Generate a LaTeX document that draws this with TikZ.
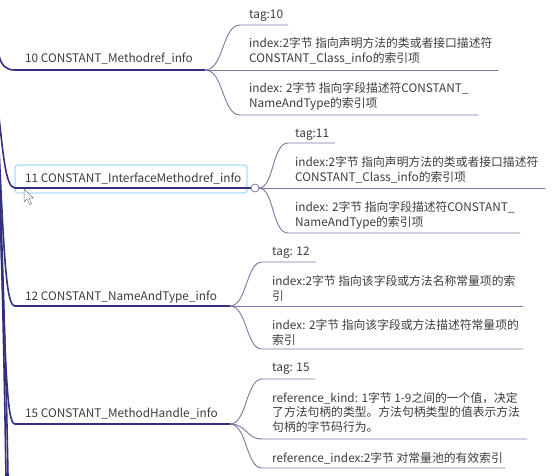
\documentclass[tikz,border=0pt]{standalone}
\usepackage{fontspec}
\setmainfont{Noto Sans CJK SC}
\definecolor{trunk}{HTML}{33307E}
\definecolor{twig}{HTML}{7B76A6}
\definecolor{txt}{HTML}{3C3C3C}
\definecolor{sel}{HTML}{A9DDF7}
\tikzset{
  lvlone/.style={draw=trunk, line width=1.6pt, line cap=round},
  lvltwo/.style={draw=twig, line width=0.9pt, line cap=round},
  lbl/.style={anchor=base west, inner sep=0pt, text=txt, font=\fontsize{11.8}{14.5}\selectfont, align=left},
}
\begin{document}
\begin{tikzpicture}[x=1pt,y=-1pt]
\useasboundingbox (0,0) rectangle (557,475);
% ---------- trunk lines from the left ----------
\coordinate (r1) at (-1,56);
\coordinate (r2) at (-3,100);
\coordinate (r3) at (-3,104);
\coordinate (r4) at (-3,108);
\coordinate (r5) at (-3,112);
\coordinate (r6) at (-3,118);
\coordinate (b5) at (6,476);
\coordinate (b6) at (8,476);
% ---------- node 10 ----------
\coordinate (n10s) at (15,70);
\coordinate (n10e) at (205,70);
\node[lbl] (t10) at (25,62) {10 CONSTANT\_Methodref\_info};
\coordinate (a10s) at (240,25);  \coordinate (a10e) at (288,25);
\node[lbl] (ta10) at (249,18) {tag:10};
\coordinate (b10e) at (498,70);
\node[lbl] (tb10) at (249,62) {index:2字节 指向声明方法的类或者接口描述符\\CONSTANT\_Class\_info的索引项};
\coordinate (c10s) at (240,115); \coordinate (c10e) at (478,115);
\node[lbl] (tc10) at (249,107) {index: 2字节 指向字段描述符CONSTANT\_\\NameAndType的索引项};
% ---------- node 11 ----------
\node[draw=sel, line width=1.3pt, rounded corners=3pt, fill=white, minimum width=232pt, minimum height=28pt, inner sep=0pt] (box11) at (131,179) {};
\coordinate (n11s) at (15,188);
\coordinate (n11e) at (251,188);
\node[lbl] (t11) at (25,182) {11 CONSTANT\_InterfaceMethodref\_info};
\coordinate (a11s) at (288,143); \coordinate (a11e) at (335,143);
\node[lbl] (ta11) at (295,137) {tag:11};
\coordinate (b11s) at (259,188); \coordinate (b11e) at (545,188);
\node[lbl] (tb11) at (295,181) {index:2字节 指向声明方法的类或者接口描述符\\CONSTANT\_Class\_info的索引项};
\coordinate (c11s) at (288,233); \coordinate (c11e) at (520,233);
\node[lbl] (tc11) at (295,226) {index: 2字节 指向字段描述符CONSTANT\_\\NameAndType的索引项};
% ---------- node 12 ----------
\coordinate (n12s) at (15,306);
\coordinate (n12e) at (230,306);
\node[lbl] (t12) at (25,300) {12 CONSTANT\_NameAndType\_info};
\coordinate (a12s) at (262,262); \coordinate (a12e) at (316,262);
\node[lbl] (ta12) at (272,255) {tag: 12};
\coordinate (b12e) at (523,306);
\node[lbl] (tb12) at (272,300) {index:2字节 指向该字段或方法名称常量项的索\\引};
\coordinate (c12s) at (262,349); \coordinate (c12e) at (523,349);
\node[lbl] (tc12) at (272,344) {index: 2字节 指向该字段或方法描述符常量项的\\索引};
% ---------- node 15 ----------
\coordinate (n15s) at (15,424);
\coordinate (n15e) at (230,424);
\node[lbl] (t15) at (25,417) {15 CONSTANT\_MethodHandle\_info};
\coordinate (a15s) at (262,379); \coordinate (a15e) at (315,379);
\node[lbl] (ta15) at (272,371) {tag: 15};
\coordinate (b15s) at (262,439); \coordinate (b15e) at (527,439);
\node[lbl] (tb15) at (272,431) {reference\_kind: 1字节 1-9之间的一个值，决定\\了方法句柄的类型。方法句柄类型的值表示方法\\句柄的字节码行为。};
\coordinate (c15s) at (262,468); \coordinate (c15e) at (505,468);
\node[lbl] (tc15) at (272,462) {reference\_index:2字节 对常量池的有效索引};
% ---------- trunk connectors ----------
\draw[lvlone] (r1) .. controls (2,66) and (6,70) .. (n10s) -- (n10e);
\draw[lvlone] (r2) .. controls (3,150) and (5,188) .. (n11s) -- (n11e);
\draw[lvlone] (r3) .. controls (4,260) and (6,306) .. (n12s) -- (n12e);
\draw[lvlone] (r4) .. controls (5,380) and (7,424) .. (n15s) -- (n15e);
\draw[lvlone] (r5) .. controls (3,280) and (5,420) .. (b5);
\draw[lvlone] (r6) .. controls (4,280) and (7,420) .. (b6);
% ---------- twigs ----------
\draw[lvltwo] (n10e) .. controls (224,70) and (222,25) .. (a10s) -- (a10e);
\draw[lvltwo] (n10e) -- (b10e);
\draw[lvltwo] (n10e) .. controls (224,70) and (222,115) .. (c10s) -- (c10e);
\draw[lvltwo] (b11s) .. controls (274,188) and (272,143) .. (a11s) -- (a11e);
\draw[lvltwo] (b11s) -- (b11e);
\draw[lvltwo] (b11s) .. controls (274,188) and (272,233) .. (c11s) -- (c11e);
\node[circle, draw=twig, fill=white, line width=0.8pt, minimum size=8pt, inner sep=0pt] (k11) at (255,188) {};
\draw[lvltwo] (n12e) .. controls (247,306) and (246,262) .. (a12s) -- (a12e);
\draw[lvltwo] (n12e) -- (b12e);
\draw[lvltwo] (n12e) .. controls (247,306) and (246,349) .. (c12s) -- (c12e);
\draw[lvltwo] (n15e) .. controls (247,424) and (246,379) .. (a15s) -- (a15e);
\draw[lvltwo] (n15e) .. controls (247,424) and (246,439) .. (b15s) -- (b15e);
\draw[lvltwo] (n15e) .. controls (247,424) and (246,468) .. (c15s) -- (c15e);
% ---------- mouse pointer ----------
\draw[fill=white, draw=black!55, line width=0.5pt, line join=round]
  (24,189) -- (24,202) -- (27.2,199) -- (29.6,204.5) -- (31.6,203.6) -- (29.2,198.2) -- (33.4,198.2) -- cycle;
\end{tikzpicture}
\end{document}
